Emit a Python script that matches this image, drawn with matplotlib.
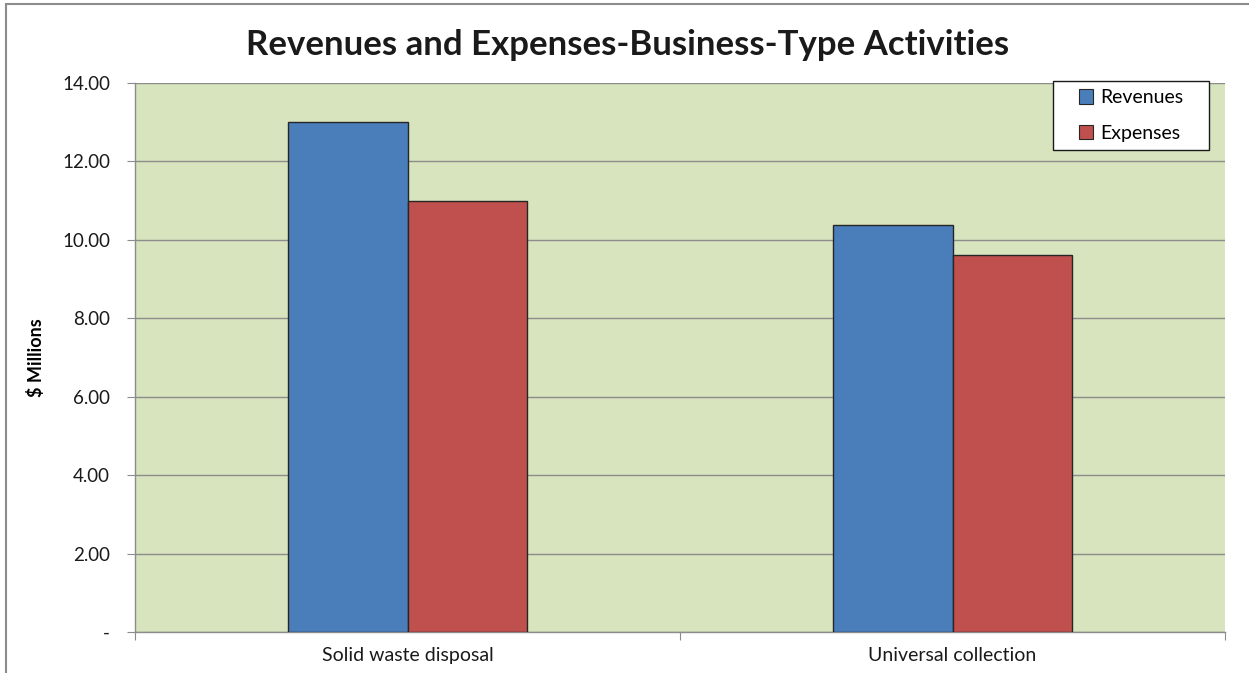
import matplotlib
matplotlib.use("Agg")
import matplotlib.pyplot as plt
from matplotlib.patches import Rectangle
from matplotlib.ticker import FixedLocator
import numpy as np

categories = ["Solid waste disposal", "Universal collection"]
revenues = [13.0, 10.38]
expenses = [11.0, 9.61]
series_names = ["Revenues", "Expenses"]
y_ticks = [0, 2, 4, 6, 8, 10, 12, 14]
y_tick_labels = ["-", "2.00", "4.00", "6.00", "8.00", "10.00", "12.00", "14.00"]

plt.rcParams['font.family'] = ['Lato', 'DejaVu Sans']

W, H = 1249, 673
fig = plt.figure(figsize=(W / 100, H / 100), dpi=100)
ax = fig.add_axes([135 / W, 1 - 632 / H, (1225 - 135) / W, (632 - 83) / H])
ax.set_facecolor("#D7E4BD")

x = np.arange(len(categories))
bw = 0.22
ax.bar(x - bw / 2, revenues, bw, color="#4A7EBB", edgecolor="#262626", linewidth=1.0, label=series_names[0], zorder=3)
ax.bar(x + bw / 2, expenses, bw, color="#C0504D", edgecolor="#262626", linewidth=1.0, label=series_names[1], zorder=3)

ax.set_xlim(-0.5, len(categories) - 0.5)
ax.set_ylim(0, 14)
ax.set_yticks(y_ticks)
ax.set_yticklabels(y_tick_labels, fontsize=13.5, color="#1a1a1a")
ax.yaxis.grid(True, color="#8c8c8c", linewidth=1.0, zorder=0)
ax.set_axisbelow(True)

ax.set_xticks(np.arange(len(categories) + 1) - 0.5)
ax.set_xticklabels([])
ax.xaxis.set_minor_locator(FixedLocator(x))
ax.set_xticks(x, minor=True)
ax.set_xticklabels(categories, minor=True, fontsize=14, color="#1a1a1a")
ax.tick_params(axis="x", which="minor", length=0, pad=11)
ax.tick_params(axis="x", which="major", length=6, color="#8c8c8c", direction="out")
ax.tick_params(axis="y", length=6, color="#8c8c8c", direction="out", pad=12)

for s in ["top", "right"]:
    ax.spines[s].set_visible(False)
for s in ["left", "bottom"]:
    ax.spines[s].set_color("#8c8c8c")
    ax.spines[s].set_linewidth(1.0)

ax.set_ylabel("$ Millions", fontsize=13, fontweight="bold", labelpad=12)

fig.text(628 / W, 1 - 45 / H, "Revenues and Expenses-Business-Type Activities",
         ha="center", va="center", fontsize=25, fontweight="bold", color="#1a1a1a")

# legend box
box = Rectangle((1053 / W, 1 - 150 / H), (1209 - 1053) / W, (150 - 81) / H,
                transform=fig.transFigure, clip_on=False, facecolor="white",
                edgecolor="#1a1a1a", linewidth=1.0, zorder=4.5)
ax.add_patch(box)
leg = ax.legend(loc="center", bbox_to_anchor=(1131 / W, 1 - 115.5 / H),
                bbox_transform=fig.transFigure,
                fontsize=14, frameon=False,
                handlelength=0.75, handleheight=0.75, handletextpad=0.35,
                labelspacing=0.95, borderpad=0, borderaxespad=0)
leg.set_zorder(5)
for h in leg.legend_handles:
    h.set_edgecolor("#262626")
    h.set_linewidth(0.8)

fig.patches.append(Rectangle((6 / W, -0.1), 2, 1.1 - 4 / H, transform=fig.transFigure,
                             fill=False, edgecolor="#8c8c8c", linewidth=1.5))

fig.savefig("out.png", dpi=100)
